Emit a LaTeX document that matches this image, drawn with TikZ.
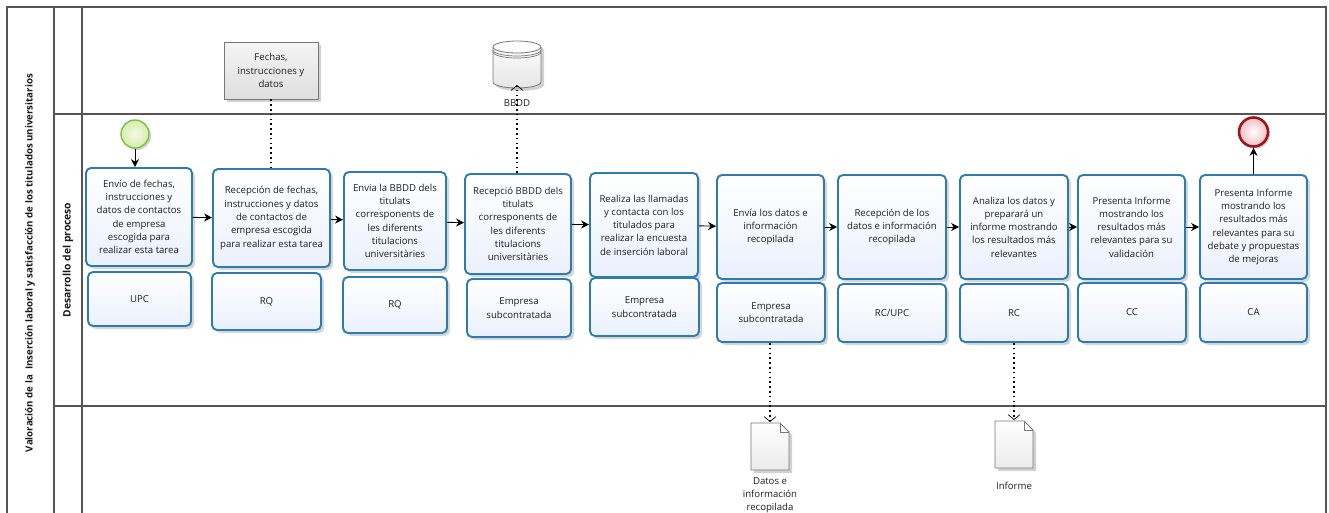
\documentclass[tikz,border=0pt]{standalone}
\usepackage{fontspec}
\setmainfont{Open Sans}
\usetikzlibrary{arrows.meta,shadows,shapes.geometric}
\definecolor{boxblue}{RGB}{44,124,176}
\definecolor{boxfill}{RGB}{234,240,252}
\definecolor{lanegray}{RGB}{85,85,85}
\definecolor{startgreen}{RGB}{125,193,66}
\definecolor{startfill}{RGB}{214,238,170}
\definecolor{endred}{RGB}{160,20,25}
\definecolor{endfill}{RGB}{240,190,195}
\definecolor{docgray}{RGB}{120,120,120}
\tikzset{
  task/.style={rectangle, rounded corners=5pt, draw=boxblue, line width=1.9pt,
    top color=white, bottom color=boxfill, align=center, text=black!88,
    font=\fontsize{9.6}{13.3}\selectfont, inner sep=1pt,
    drop shadow={shadow xshift=3pt, shadow yshift=-3pt, opacity=0.16, fill=black}},
  flow/.style={draw=black, line width=0.9pt, -{Stealth[length=8pt,width=8pt]}},
  assoc/.style={draw=black, line width=1.6pt, dash pattern=on 1.6pt off 3.2pt},
  assocend/.style={assoc, -{Straight Barb[length=5pt,width=12pt,line width=0.7pt,sep=0pt]}},
  lane/.style={draw=lanegray, line width=1.1pt},
  plain/.style={font=\fontsize{9.6}{13.3}\selectfont, text=black!88, align=center},
  dataobj/.style={rectangle, draw=docgray, line width=0.8pt, top color=black!4, bottom color=black!13,
    align=center, text=black!88, font=\fontsize{9.6}{13.3}\selectfont,
    drop shadow={shadow xshift=3pt, shadow yshift=-3pt, opacity=0.18, fill=black}},
  docshape/.style={draw=docgray, line width=0.8pt, top color=white, bottom color=black!8,
    drop shadow={shadow xshift=3pt, shadow yshift=-3pt, opacity=0.18, fill=black}},
}
\begin{document}
\begin{tikzpicture}[x=1pt,y=-1pt]
\useasboundingbox (0,0) rectangle (1329,512);
\fill[white] (0,0) rectangle (1329,512);
% pool and lanes
\draw[lane] (7,530) -- (7,7) -- (1326,7) -- (1326,530);
\draw[lane] (54,7) -- (54,530);
\draw[lane] (82,7) -- (82,530);
\draw[lane] (54,114) -- (1326,114);
\draw[lane] (54,406) -- (1326,406);
\node[rotate=90, font=\bfseries\fontsize{9.7}{11}\selectfont, text=black!90] (pool) at (30,263)
  {Valoración de la~ Inserción laboral y satisfacción de los titulados universitarios};
\node[rotate=90, font=\bfseries\fontsize{10.3}{12}\selectfont, text=black!90] (lanelbl) at (68,260)
  {Desarrollo del proceso};

% tasks
\node[task, minimum width=106pt, minimum height=98pt] (b1) at (139,217)
  {Envío de fechas,\\instrucciones y\\datos de contactos\\de empresa\\escogida para\\realizar esta tarea};
\node[task, minimum width=117pt, minimum height=98pt] (b2) at (271.5,218)
  {Recepción de fechas,\\instrucciones y datos\\de contactos de\\empresa escogida\\para realizar esta tarea};
\node[task, minimum width=102pt, minimum height=98pt] (b3) at (395,221)
  {Envia la BBDD dels\\titulats\\corresponents de\\les diferents\\titulacions\\universitàries};
\node[task, minimum width=106pt, minimum height=100pt] (b4) at (518,224)
  {Recepció BBDD dels\\titulats\\corresponents de\\les diferents\\titulacions\\universitàries};
\node[task, minimum width=108pt, minimum height=104pt] (b5) at (644,225)
  {Realiza las llamadas\\y contacta con los\\titulados para\\realizar la encuesta\\de inserción laboral};
\node[task, minimum width=107pt, minimum height=104pt] (b6) at (770.5,227)
  {Envía los datos e\\información\\recopilada};
\node[task, minimum width=108pt, minimum height=104pt] (b7) at (892,227)
  {Recepción de los\\datos e información\\recopilada};
\node[task, minimum width=108pt, minimum height=104pt] (b8) at (1014,227)
  {Analiza los datos y\\preparará un\\informe mostrando\\los resultados más\\relevantes};
\node[task, minimum width=107pt, minimum height=104pt] (b9) at (1131.5,227)
  {Presenta Informe\\mostrando los\\resultados más\\relevantes para su\\validación};
\node[task, minimum width=107pt, minimum height=104pt] (b10) at (1253.5,227)
  {Presenta Informe\\mostrando los\\resultados más\\relevantes para su\\debate y propuestas\\de mejoras};

% roles
\node[task, minimum width=103pt, minimum height=54pt] (r1) at (139.5,299) {UPC};
\node[task, minimum width=109pt, minimum height=57pt] (r2) at (266.5,301.5) {RQ};
\node[task, minimum width=104pt, minimum height=56pt] (r3) at (395,305) {RQ};
\node[task, minimum width=104pt, minimum height=58pt] (r4) at (519,308) {Empresa\\subcontratada};
\node[task, minimum width=109pt, minimum height=58pt] (r5) at (644.5,307) {Empresa\\subcontratada};
\node[task, minimum width=108pt, minimum height=59pt] (r6) at (771,312.5) {Empresa\\subcontratada};
\node[task, minimum width=108pt, minimum height=58pt] (r7) at (892,313) {RC/UPC};
\node[task, minimum width=108pt, minimum height=58pt] (r8) at (1014,313) {RC};
\node[task, minimum width=108pt, minimum height=59pt] (r9) at (1132,312.5) {CC};
\node[task, minimum width=107pt, minimum height=59pt] (r10) at (1253.5,312.5) {CA};

% events
\node[circle, minimum size=28pt, inner sep=0pt, draw=startgreen, line width=1.4pt,
  inner color=white!70!startfill, outer color=startfill,
  drop shadow={shadow xshift=2pt, shadow yshift=-2pt, opacity=0.18, fill=black}] (start) at (135,134) {};
\node[circle, minimum size=29pt, inner sep=0pt, draw=endred, line width=2.6pt,
  inner color=white, outer color=endfill,
  drop shadow={shadow xshift=2pt, shadow yshift=-2pt, opacity=0.18, fill=black}] (end) at (1253.5,132) {};

% sequence flows
\draw[flow] (start) -- (start |- b1.north);
\draw[flow] (b1) -- (b2);
\draw[flow] (b2) -- (b3);
\draw[flow] (b3) -- (b4);
\draw[flow] (b4) -- (b5);
\draw[flow] (b5) -- (b6);
\draw[flow] (b6) -- (b7);
\draw[flow] (b7) -- (b8);
\draw[flow] (b8) -- (b9);
\draw[flow] (b9) -- (b10);
\draw[flow] (b10.north) -- (end);

% data object Fechas
\node[dataobj, minimum width=94pt, minimum height=57pt] (fechas) at (271,70.5)
  {Fechas,\\instrucciones y\\datos};
\draw[assoc] (fechas.south) -- (fechas.south |- b2.north);

% database BBDD
\path[top color=white, bottom color=black!10, draw=docgray, line width=0.8pt,
  drop shadow={shadow xshift=3pt, shadow yshift=-3pt, opacity=0.18, fill=black}]
  (493,47) -- (493,82) arc[start angle=180, end angle=0, x radius=24, y radius=6]
  -- (541,47) arc[start angle=0, end angle=-180, x radius=24, y radius=6] -- cycle;
\draw[docgray, line width=0.8pt] (493,47) arc[start angle=180, end angle=0, x radius=24, y radius=6];
\draw[docgray, line width=0.7pt] (493,50) arc[start angle=180, end angle=0, x radius=24, y radius=6];
\draw[docgray, line width=0.7pt] (493,52) arc[start angle=180, end angle=0, x radius=24, y radius=6];
\coordinate (bbddtip) at (517,85);
\node[plain] (bbddlbl) at (517,103) {BBDD};
\draw[assocend] (b4.north -| bbddtip) -- (bbddtip);

% documents
\path[docshape] (751,423) -- (780,423) -- (789,432) -- (789,470) -- (751,470) -- cycle;
\draw[docgray, line width=0.8pt] (780,423) -- (780,432) -- (789,432);
\coordinate (doc1tip) at (770,422);
\node[plain, anchor=north] (doc1lbl) at (770,474) {Datos e\\información\\recopilada};
\draw[assocend] (r6.south -| doc1tip) -- (doc1tip);

\path[docshape] (995,421) -- (1024,421) -- (1033,430) -- (1033,468) -- (995,468) -- cycle;
\draw[docgray, line width=0.8pt] (1024,421) -- (1024,430) -- (1033,430);
\coordinate (doc2tip) at (1014,420);
\node[plain] (doc2lbl) at (1014,486) {Informe};
\draw[assocend] (r8.south) -- (doc2tip);
\end{tikzpicture}
\end{document}
